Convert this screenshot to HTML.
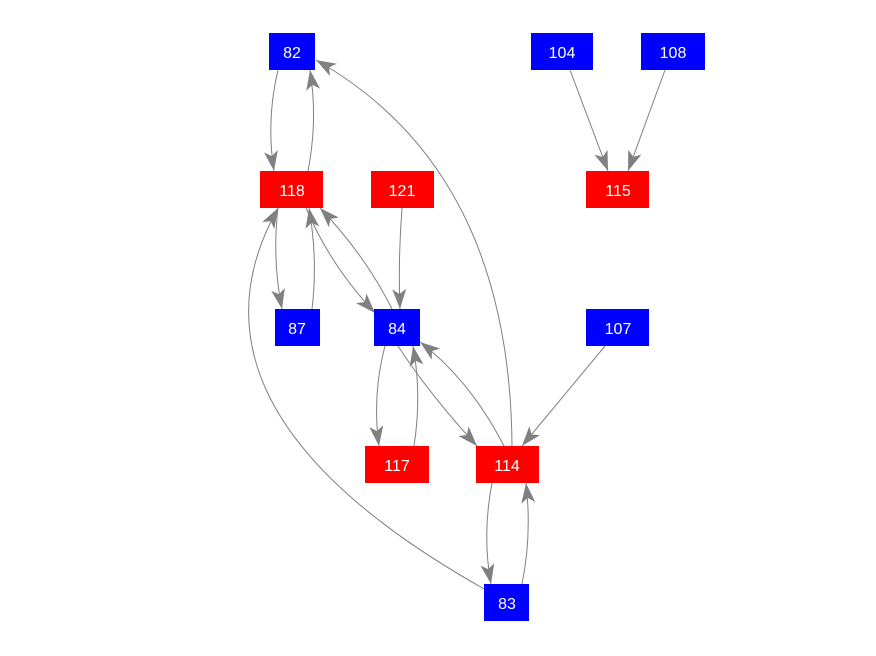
<!DOCTYPE html>
<html><head><meta charset="utf-8"><style>
html,body{margin:0;padding:0;background:#fff;}
svg{display:block;}
text{font-family:"Liberation Sans",Arial,sans-serif;font-size:16px;fill:#fff;text-anchor:middle;}
</style></head><body>
<svg width="876" height="656" viewBox="0 0 876 656" xmlns="http://www.w3.org/2000/svg">
<defs>
<marker id="a" viewBox="0 0 20 14" refX="20" refY="7" markerWidth="20" markerHeight="14" markerUnits="userSpaceOnUse" orient="auto">
<path d="M0,0 L20,7 L0,14 L5,7 Z" fill="#808080"/>
</marker>
</defs>
<g fill="none" stroke="#808080" stroke-width="1" marker-end="url(#a)">
<path d="M278,70 Q266,120 274,171"/>
<path d="M308,171 Q318,120 310,70"/>
<path d="M512,446 Q510,170 316,60"/>
<path d="M570,70 L608,171"/>
<path d="M665,70 L628,171"/>
<path d="M402,208 Q398,260 400,309"/>
<path d="M278,208 Q272,260 282,309"/>
<path d="M312,309 Q318,260 309,208"/>
<path d="M306,208 Q330,265 375,313"/>
<path d="M392,309 Q365,255 320,208"/>
<path d="M486,590 Q165,410 278,208"/>
<path d="M385,346 Q372,395 379,446"/>
<path d="M414,446 Q422,395 413,346"/>
<path d="M398,346 Q430,395 477,446"/>
<path d="M504,446 Q470,380 420,342"/>
<path d="M605,346 L522,446"/>
<path d="M492,483 Q482,535 491,584"/>
<path d="M522,584 Q532,535 526,483"/>
</g>
<g>
<rect x="269" y="33" width="46" height="37" fill="#0000ff"/><text x="292" y="58">82</text>
<rect x="531" y="33" width="62" height="37" fill="#0000ff"/><text x="562" y="58">104</text>
<rect x="641" y="33" width="64" height="37" fill="#0000ff"/><text x="673" y="58">108</text>
<rect x="260" y="171" width="63" height="37" fill="#ff0000"/><text x="292" y="196">118</text>
<rect x="371" y="171" width="63" height="37" fill="#ff0000"/><text x="402" y="196">121</text>
<rect x="586" y="171" width="63" height="37" fill="#ff0000"/><text x="618" y="196">115</text>
<rect x="275" y="309" width="45" height="37" fill="#0000ff"/><text x="297" y="334">87</text>
<rect x="374" y="309" width="46" height="37" fill="#0000ff"/><text x="397" y="334">84</text>
<rect x="586" y="309" width="63" height="37" fill="#0000ff"/><text x="618" y="334">107</text>
<rect x="365" y="446" width="64" height="37" fill="#ff0000"/><text x="397" y="471">117</text>
<rect x="476" y="446" width="63" height="37" fill="#ff0000"/><text x="507" y="471">114</text>
<rect x="484" y="584" width="45" height="37" fill="#0000ff"/><text x="507" y="609">83</text>
</g>
</svg>
</body></html>
